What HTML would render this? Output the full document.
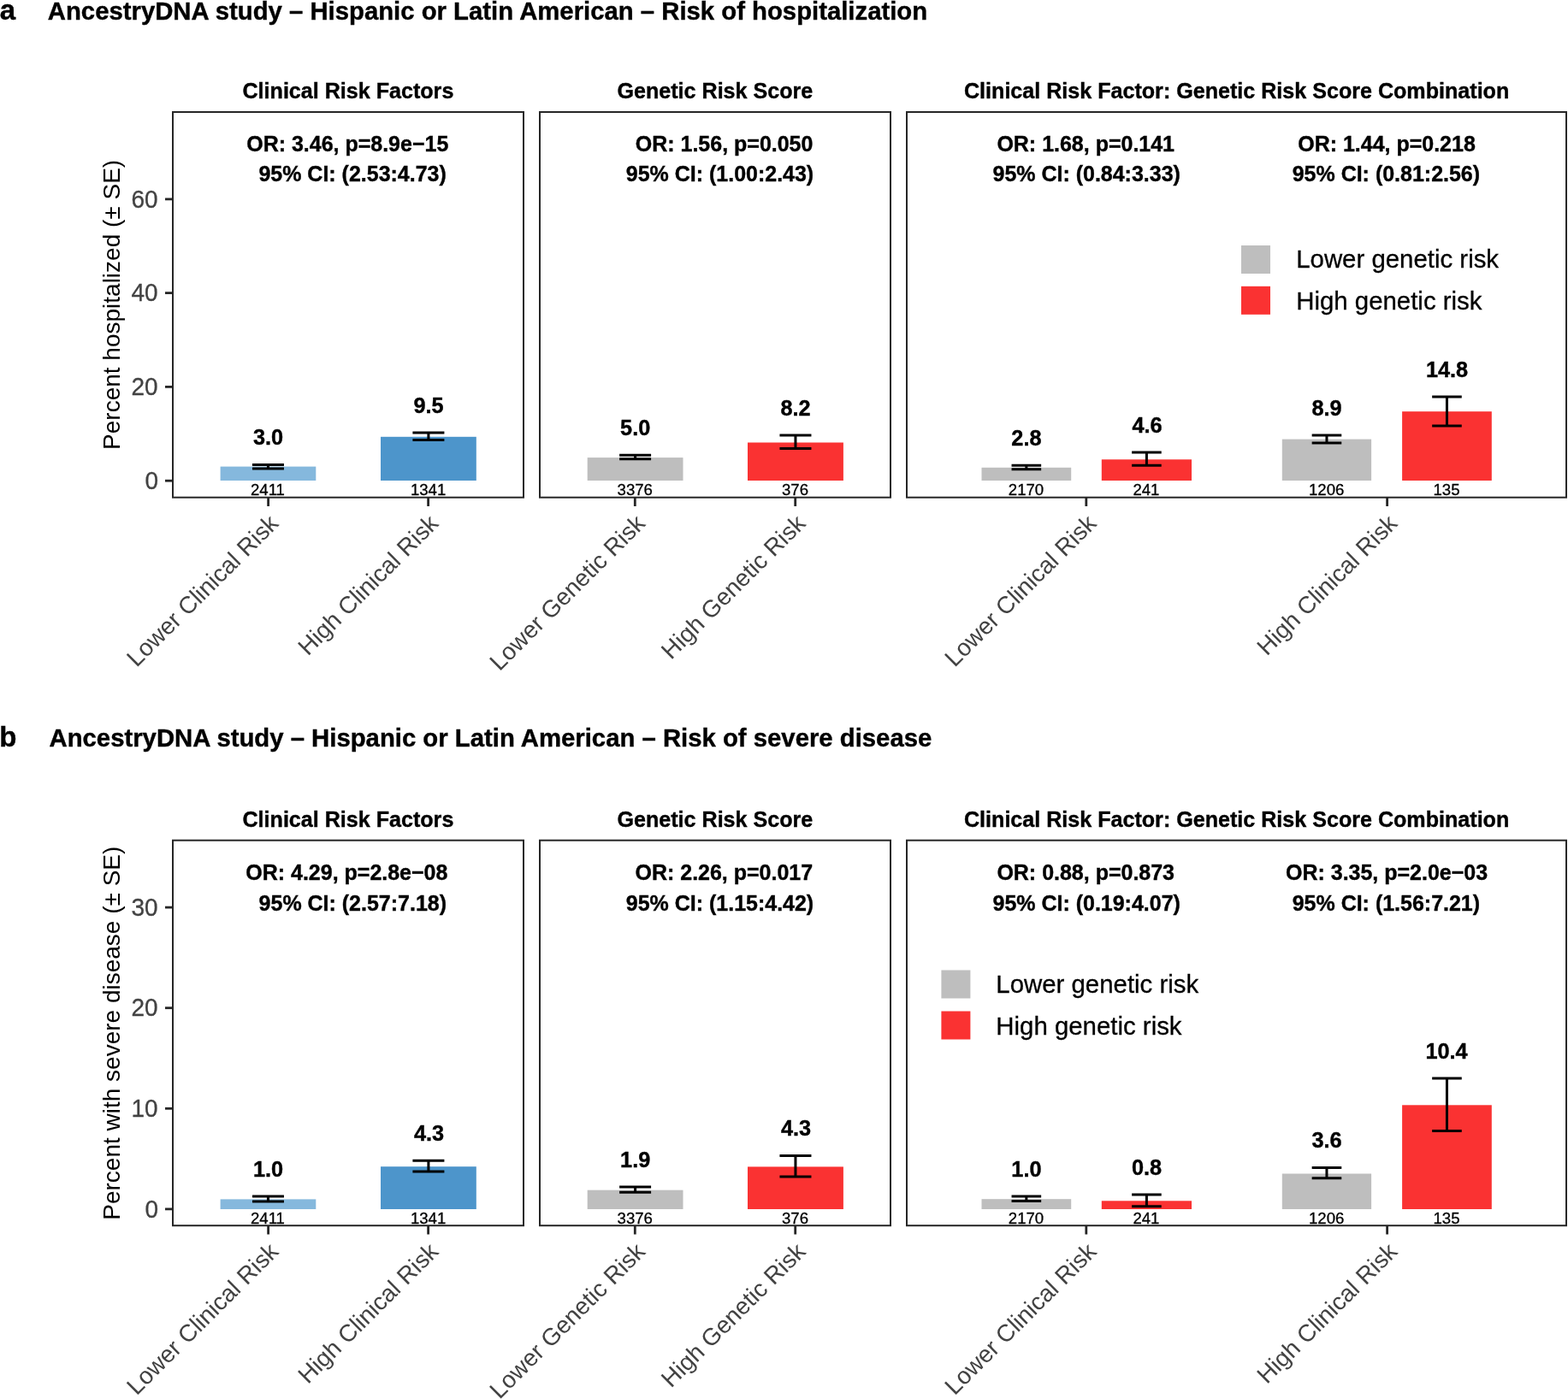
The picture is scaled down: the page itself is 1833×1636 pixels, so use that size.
<!DOCTYPE html><html><head><meta charset="utf-8"><title>AncestryDNA study</title><style>html,body{margin:0;padding:0;background:#fff;}svg{display:block;}text{font-family:"Liberation Sans", Arial, Helvetica, sans-serif;}</style></head><body>
<svg width="1833" height="1636" viewBox="0 0 1833 1636">
<rect x="0" y="0" width="1833" height="1636" fill="#fff"/>
<text transform="translate(-0.35 22.90) scale(1 1.0)" font-size="33.0" font-weight="bold" fill="#000" stroke="#000" stroke-width="0.4" text-anchor="start">a</text>
<text transform="translate(55.80 22.70) scale(1 1.0)" font-size="29.3" font-weight="bold" fill="#000" stroke="#000" stroke-width="0.4" text-anchor="start">AncestryDNA study – Hispanic or Latin American – Risk of hospitalization</text>
<text transform="translate(283.50 114.80) scale(1 1.0)" font-size="25.1" font-weight="bold" fill="#000" stroke="#000" stroke-width="0.4" text-anchor="start">Clinical Risk Factors</text>
<text transform="translate(721.50 114.80) scale(1 1.0)" font-size="25.1" font-weight="bold" fill="#000" stroke="#000" stroke-width="0.4" text-anchor="start">Genetic Risk Score</text>
<text transform="translate(1127.00 114.80) scale(1 1.0)" font-size="25.1" font-weight="bold" fill="#000" stroke="#000" stroke-width="0.4" text-anchor="start">Clinical Risk Factor: Genetic Risk Score Combination</text>
<rect x="257.60" y="545.60" width="111.70" height="16.40" fill="#85B8DD"/>
<rect x="445.00" y="510.80" width="111.80" height="51.20" fill="#4D95CB"/>
<rect x="686.70" y="535.10" width="111.80" height="26.90" fill="#BEBEBE"/>
<rect x="874.00" y="517.50" width="111.90" height="44.50" fill="#FA3232"/>
<rect x="1147.50" y="546.80" width="104.70" height="15.20" fill="#BEBEBE"/>
<rect x="1287.80" y="537.30" width="105.20" height="24.70" fill="#FA3232"/>
<rect x="1498.80" y="513.60" width="104.30" height="48.40" fill="#BEBEBE"/>
<rect x="1639.10" y="481.20" width="104.70" height="80.80" fill="#FA3232"/>
<path d="M294.95 543.40H331.95M313.45 543.40V548.00M294.95 548.00H331.95" stroke="#000" stroke-width="3.0" fill="none"/>
<text transform="translate(295.95 520.00) scale(1 1.03)" font-size="25.3" font-weight="bold" fill="#000" stroke="#000" stroke-width="0.4" text-anchor="start">3.0</text>
<text transform="translate(292.95 578.80) scale(1 1.03)" font-size="18.6" font-weight="normal" fill="#000" stroke="#000" stroke-width="0.3" text-anchor="start">2411</text>
<path d="M482.40 506.00H519.40M500.90 506.00V514.60M482.40 514.60H519.40" stroke="#000" stroke-width="3.0" fill="none"/>
<text transform="translate(483.40 482.60) scale(1 1.03)" font-size="25.3" font-weight="bold" fill="#000" stroke="#000" stroke-width="0.4" text-anchor="start">9.5</text>
<text transform="translate(479.90 578.80) scale(1 1.03)" font-size="18.6" font-weight="normal" fill="#000" stroke="#000" stroke-width="0.3" text-anchor="start">1341</text>
<path d="M724.10 532.30H761.10M742.60 532.30V536.80M724.10 536.80H761.10" stroke="#000" stroke-width="3.0" fill="none"/>
<text transform="translate(725.10 508.90) scale(1 1.03)" font-size="25.3" font-weight="bold" fill="#000" stroke="#000" stroke-width="0.4" text-anchor="start">5.0</text>
<text transform="translate(721.60 578.80) scale(1 1.03)" font-size="18.6" font-weight="normal" fill="#000" stroke="#000" stroke-width="0.3" text-anchor="start">3376</text>
<path d="M911.45 508.90H948.45M929.95 508.90V524.50M911.45 524.50H948.45" stroke="#000" stroke-width="3.0" fill="none"/>
<text transform="translate(912.45 485.50) scale(1 1.03)" font-size="25.3" font-weight="bold" fill="#000" stroke="#000" stroke-width="0.4" text-anchor="start">8.2</text>
<text transform="translate(913.95 578.80) scale(1 1.03)" font-size="18.6" font-weight="normal" fill="#000" stroke="#000" stroke-width="0.3" text-anchor="start">376</text>
<path d="M1182.55 544.30H1217.15M1199.85 544.30V548.70M1182.55 548.70H1217.15" stroke="#000" stroke-width="3.0" fill="none"/>
<text transform="translate(1182.35 520.90) scale(1 1.03)" font-size="25.3" font-weight="bold" fill="#000" stroke="#000" stroke-width="0.4" text-anchor="start">2.8</text>
<text transform="translate(1178.85 578.80) scale(1 1.03)" font-size="18.6" font-weight="normal" fill="#000" stroke="#000" stroke-width="0.3" text-anchor="start">2170</text>
<path d="M1323.10 529.10H1357.70M1340.40 529.10V544.30M1323.10 544.30H1357.70" stroke="#000" stroke-width="3.0" fill="none"/>
<text transform="translate(1323.40 505.70) scale(1 1.03)" font-size="25.3" font-weight="bold" fill="#000" stroke="#000" stroke-width="0.4" text-anchor="start">4.6</text>
<text transform="translate(1324.40 578.80) scale(1 1.03)" font-size="18.6" font-weight="normal" fill="#000" stroke="#000" stroke-width="0.3" text-anchor="start">241</text>
<path d="M1533.65 509.00H1568.25M1550.95 509.00V518.00M1533.65 518.00H1568.25" stroke="#000" stroke-width="3.0" fill="none"/>
<text transform="translate(1533.45 485.60) scale(1 1.03)" font-size="25.3" font-weight="bold" fill="#000" stroke="#000" stroke-width="0.4" text-anchor="start">8.9</text>
<text transform="translate(1529.95 578.80) scale(1 1.03)" font-size="18.6" font-weight="normal" fill="#000" stroke="#000" stroke-width="0.3" text-anchor="start">1206</text>
<path d="M1674.15 464.00H1708.75M1691.45 464.00V497.90M1674.15 497.90H1708.75" stroke="#000" stroke-width="3.0" fill="none"/>
<text transform="translate(1666.95 440.60) scale(1 1.03)" font-size="25.3" font-weight="bold" fill="#000" stroke="#000" stroke-width="0.4" text-anchor="start">14.8</text>
<text transform="translate(1675.45 578.80) scale(1 1.03)" font-size="18.6" font-weight="normal" fill="#000" stroke="#000" stroke-width="0.3" text-anchor="start">135</text>
<text transform="translate(288.20 177.00) scale(1 1.03)" font-size="25.0" font-weight="bold" fill="#000" stroke="#000" stroke-width="0.4" text-anchor="start">OR: 3.46, p=8.9e−15</text>
<text transform="translate(302.40 212.40) scale(1 1.03)" font-size="25.0" font-weight="bold" fill="#000" stroke="#000" stroke-width="0.4" text-anchor="start">95% CI: (2.53:4.73)</text>
<text transform="translate(742.80 177.00) scale(1 1.03)" font-size="25.0" font-weight="bold" fill="#000" stroke="#000" stroke-width="0.4" text-anchor="start">OR: 1.56, p=0.050</text>
<text transform="translate(731.80 212.40) scale(1 1.03)" font-size="25.0" font-weight="bold" fill="#000" stroke="#000" stroke-width="0.4" text-anchor="start">95% CI: (1.00:2.43)</text>
<text transform="translate(1165.40 177.00) scale(1 1.03)" font-size="25.0" font-weight="bold" fill="#000" stroke="#000" stroke-width="0.4" text-anchor="start">OR: 1.68, p=0.141</text>
<text transform="translate(1160.50 212.40) scale(1 1.03)" font-size="25.0" font-weight="bold" fill="#000" stroke="#000" stroke-width="0.4" text-anchor="start">95% CI: (0.84:3.33)</text>
<text transform="translate(1517.20 177.00) scale(1 1.03)" font-size="25.0" font-weight="bold" fill="#000" stroke="#000" stroke-width="0.4" text-anchor="start">OR: 1.44, p=0.218</text>
<text transform="translate(1510.70 212.40) scale(1 1.03)" font-size="25.0" font-weight="bold" fill="#000" stroke="#000" stroke-width="0.4" text-anchor="start">95% CI: (0.81:2.56)</text>
<rect x="1451.00" y="287.00" width="34" height="33" fill="#BEBEBE"/>
<text transform="translate(1515.20 313.00) scale(1 1.0)" font-size="29.4" font-weight="normal" fill="#000" stroke="#000" stroke-width="0.3" text-anchor="start">Lower genetic risk</text>
<rect x="1451.00" y="334.80" width="34" height="33" fill="#FA3232"/>
<text transform="translate(1515.20 361.80) scale(1 1.0)" font-size="29.4" font-weight="normal" fill="#000" stroke="#000" stroke-width="0.3" text-anchor="start">High genetic risk</text>
<rect x="202.00" y="131.00" width="410.00" height="450.70" fill="none" stroke="#262626" stroke-width="2.0"/>
<rect x="631.00" y="131.00" width="410.00" height="450.70" fill="none" stroke="#262626" stroke-width="2.0"/>
<rect x="1060.00" y="131.00" width="771.00" height="450.70" fill="none" stroke="#262626" stroke-width="2.0"/>
<line x1="193" y1="562.20" x2="202" y2="562.20" stroke="#262626" stroke-width="2.8"/>
<text transform="translate(169.50 571.99) scale(1 1.03)" font-size="28.0" font-weight="normal" fill="#424242" stroke="#424242" stroke-width="0.3" text-anchor="start">0</text>
<line x1="193" y1="452.40" x2="202" y2="452.40" stroke="#262626" stroke-width="2.8"/>
<text transform="translate(153.50 462.19) scale(1 1.03)" font-size="28.0" font-weight="normal" fill="#424242" stroke="#424242" stroke-width="0.3" text-anchor="start">20</text>
<line x1="193" y1="342.60" x2="202" y2="342.60" stroke="#262626" stroke-width="2.8"/>
<text transform="translate(153.50 352.39) scale(1 1.03)" font-size="28.0" font-weight="normal" fill="#424242" stroke="#424242" stroke-width="0.3" text-anchor="start">40</text>
<line x1="193" y1="232.90" x2="202" y2="232.90" stroke="#262626" stroke-width="2.8"/>
<text transform="translate(153.50 242.69) scale(1 1.03)" font-size="28.0" font-weight="normal" fill="#424242" stroke="#424242" stroke-width="0.3" text-anchor="start">60</text>
<text transform="translate(140 356.40) rotate(-90) scale(1 1.0)" x="0" y="0" font-size="28.0" fill="#000" text-anchor="middle">Percent hospitalized (± SE)</text>
<line x1="313.60" y1="581.70" x2="313.60" y2="592.00" stroke="#262626" stroke-width="2.8"/>
<text transform="translate(313.10 599.90) rotate(-45) scale(1 1.0)" x="0" y="19.60" font-size="28.0" fill="#424242" text-anchor="end">Lower Clinical Risk</text>
<line x1="500.60" y1="581.70" x2="500.60" y2="592.00" stroke="#262626" stroke-width="2.8"/>
<text transform="translate(500.10 599.90) rotate(-45) scale(1 1.0)" x="0" y="19.60" font-size="28.0" fill="#424242" text-anchor="end">High Clinical Risk</text>
<line x1="742.30" y1="581.70" x2="742.30" y2="592.00" stroke="#262626" stroke-width="2.8"/>
<text transform="translate(741.80 599.90) rotate(-45) scale(1 1.0)" x="0" y="19.60" font-size="28.0" fill="#424242" text-anchor="end">Lower Genetic Risk</text>
<line x1="929.70" y1="581.70" x2="929.70" y2="592.00" stroke="#262626" stroke-width="2.8"/>
<text transform="translate(929.20 599.90) rotate(-45) scale(1 1.0)" x="0" y="19.60" font-size="28.0" fill="#424242" text-anchor="end">High Genetic Risk</text>
<line x1="1269.80" y1="581.70" x2="1269.80" y2="592.00" stroke="#262626" stroke-width="2.8"/>
<text transform="translate(1269.30 599.90) rotate(-45) scale(1 1.0)" x="0" y="19.60" font-size="28.0" fill="#424242" text-anchor="end">Lower Clinical Risk</text>
<line x1="1621.60" y1="581.70" x2="1621.60" y2="592.00" stroke="#262626" stroke-width="2.8"/>
<text transform="translate(1621.10 599.90) rotate(-45) scale(1 1.0)" x="0" y="19.60" font-size="28.0" fill="#424242" text-anchor="end">High Clinical Risk</text>
<text transform="translate(-0.70 872.90) scale(1 1.0)" font-size="33.0" font-weight="bold" fill="#000" stroke="#000" stroke-width="0.4" text-anchor="start">b</text>
<text transform="translate(57.50 872.70) scale(1 1.0)" font-size="29.3" font-weight="bold" fill="#000" stroke="#000" stroke-width="0.4" text-anchor="start">AncestryDNA study – Hispanic or Latin American – Risk of severe disease</text>
<text transform="translate(283.50 966.50) scale(1 1.0)" font-size="25.1" font-weight="bold" fill="#000" stroke="#000" stroke-width="0.4" text-anchor="start">Clinical Risk Factors</text>
<text transform="translate(721.50 966.50) scale(1 1.0)" font-size="25.1" font-weight="bold" fill="#000" stroke="#000" stroke-width="0.4" text-anchor="start">Genetic Risk Score</text>
<text transform="translate(1127.00 966.50) scale(1 1.0)" font-size="25.1" font-weight="bold" fill="#000" stroke="#000" stroke-width="0.4" text-anchor="start">Clinical Risk Factor: Genetic Risk Score Combination</text>
<rect x="257.60" y="1402.40" width="111.70" height="11.60" fill="#85B8DD"/>
<rect x="445.00" y="1364.20" width="111.80" height="49.80" fill="#4D95CB"/>
<rect x="686.70" y="1391.70" width="111.80" height="22.30" fill="#BEBEBE"/>
<rect x="874.00" y="1364.40" width="111.90" height="49.60" fill="#FA3232"/>
<rect x="1147.50" y="1402.20" width="104.70" height="11.80" fill="#BEBEBE"/>
<rect x="1287.80" y="1404.30" width="105.20" height="9.70" fill="#FA3232"/>
<rect x="1498.80" y="1372.50" width="104.30" height="41.50" fill="#BEBEBE"/>
<rect x="1639.10" y="1292.30" width="104.70" height="121.70" fill="#FA3232"/>
<path d="M294.95 1399.00H331.95M313.45 1399.00V1405.00M294.95 1405.00H331.95" stroke="#000" stroke-width="3.0" fill="none"/>
<text transform="translate(295.95 1375.60) scale(1 1.03)" font-size="25.3" font-weight="bold" fill="#000" stroke="#000" stroke-width="0.4" text-anchor="start">1.0</text>
<text transform="translate(292.95 1430.60) scale(1 1.03)" font-size="18.6" font-weight="normal" fill="#000" stroke="#000" stroke-width="0.3" text-anchor="start">2411</text>
<path d="M482.40 1357.30H519.40M500.90 1357.30V1370.10M482.40 1370.10H519.40" stroke="#000" stroke-width="3.0" fill="none"/>
<text transform="translate(483.90 1333.90) scale(1 1.03)" font-size="25.3" font-weight="bold" fill="#000" stroke="#000" stroke-width="0.4" text-anchor="start">4.3</text>
<text transform="translate(479.90 1430.60) scale(1 1.03)" font-size="18.6" font-weight="normal" fill="#000" stroke="#000" stroke-width="0.3" text-anchor="start">1341</text>
<path d="M724.10 1387.90H761.10M742.60 1387.90V1394.30M724.10 1394.30H761.10" stroke="#000" stroke-width="3.0" fill="none"/>
<text transform="translate(725.10 1364.50) scale(1 1.03)" font-size="25.3" font-weight="bold" fill="#000" stroke="#000" stroke-width="0.4" text-anchor="start">1.9</text>
<text transform="translate(721.60 1430.60) scale(1 1.03)" font-size="18.6" font-weight="normal" fill="#000" stroke="#000" stroke-width="0.3" text-anchor="start">3376</text>
<path d="M911.45 1351.50H948.45M929.95 1351.50V1375.90M911.45 1375.90H948.45" stroke="#000" stroke-width="3.0" fill="none"/>
<text transform="translate(912.95 1328.10) scale(1 1.03)" font-size="25.3" font-weight="bold" fill="#000" stroke="#000" stroke-width="0.4" text-anchor="start">4.3</text>
<text transform="translate(913.95 1430.60) scale(1 1.03)" font-size="18.6" font-weight="normal" fill="#000" stroke="#000" stroke-width="0.3" text-anchor="start">376</text>
<path d="M1182.55 1398.90H1217.15M1199.85 1398.90V1404.60M1182.55 1404.60H1217.15" stroke="#000" stroke-width="3.0" fill="none"/>
<text transform="translate(1182.35 1375.50) scale(1 1.03)" font-size="25.3" font-weight="bold" fill="#000" stroke="#000" stroke-width="0.4" text-anchor="start">1.0</text>
<text transform="translate(1178.85 1430.60) scale(1 1.03)" font-size="18.6" font-weight="normal" fill="#000" stroke="#000" stroke-width="0.3" text-anchor="start">2170</text>
<path d="M1323.10 1397.00H1357.70M1340.40 1397.00V1410.70M1323.10 1410.70H1357.70" stroke="#000" stroke-width="3.0" fill="none"/>
<text transform="translate(1322.90 1373.60) scale(1 1.03)" font-size="25.3" font-weight="bold" fill="#000" stroke="#000" stroke-width="0.4" text-anchor="start">0.8</text>
<text transform="translate(1324.40 1430.60) scale(1 1.03)" font-size="18.6" font-weight="normal" fill="#000" stroke="#000" stroke-width="0.3" text-anchor="start">241</text>
<path d="M1533.65 1365.50H1568.25M1550.95 1365.50V1377.80M1533.65 1377.80H1568.25" stroke="#000" stroke-width="3.0" fill="none"/>
<text transform="translate(1533.45 1342.10) scale(1 1.03)" font-size="25.3" font-weight="bold" fill="#000" stroke="#000" stroke-width="0.4" text-anchor="start">3.6</text>
<text transform="translate(1529.95 1430.60) scale(1 1.03)" font-size="18.6" font-weight="normal" fill="#000" stroke="#000" stroke-width="0.3" text-anchor="start">1206</text>
<path d="M1674.15 1261.10H1708.75M1691.45 1261.10V1322.60M1674.15 1322.60H1708.75" stroke="#000" stroke-width="3.0" fill="none"/>
<text transform="translate(1666.45 1237.70) scale(1 1.03)" font-size="25.3" font-weight="bold" fill="#000" stroke="#000" stroke-width="0.4" text-anchor="start">10.4</text>
<text transform="translate(1675.45 1430.60) scale(1 1.03)" font-size="18.6" font-weight="normal" fill="#000" stroke="#000" stroke-width="0.3" text-anchor="start">135</text>
<text transform="translate(287.30 1028.70) scale(1 1.03)" font-size="25.0" font-weight="bold" fill="#000" stroke="#000" stroke-width="0.4" text-anchor="start">OR: 4.29, p=2.8e−08</text>
<text transform="translate(302.60 1064.50) scale(1 1.03)" font-size="25.0" font-weight="bold" fill="#000" stroke="#000" stroke-width="0.4" text-anchor="start">95% CI: (2.57:7.18)</text>
<text transform="translate(742.50 1028.70) scale(1 1.03)" font-size="25.0" font-weight="bold" fill="#000" stroke="#000" stroke-width="0.4" text-anchor="start">OR: 2.26, p=0.017</text>
<text transform="translate(731.80 1064.50) scale(1 1.03)" font-size="25.0" font-weight="bold" fill="#000" stroke="#000" stroke-width="0.4" text-anchor="start">95% CI: (1.15:4.42)</text>
<text transform="translate(1165.40 1028.70) scale(1 1.03)" font-size="25.0" font-weight="bold" fill="#000" stroke="#000" stroke-width="0.4" text-anchor="start">OR: 0.88, p=0.873</text>
<text transform="translate(1160.50 1064.50) scale(1 1.03)" font-size="25.0" font-weight="bold" fill="#000" stroke="#000" stroke-width="0.4" text-anchor="start">95% CI: (0.19:4.07)</text>
<text transform="translate(1503.00 1028.70) scale(1 1.03)" font-size="25.0" font-weight="bold" fill="#000" stroke="#000" stroke-width="0.4" text-anchor="start">OR: 3.35, p=2.0e−03</text>
<text transform="translate(1510.70 1064.50) scale(1 1.03)" font-size="25.0" font-weight="bold" fill="#000" stroke="#000" stroke-width="0.4" text-anchor="start">95% CI: (1.56:7.21)</text>
<rect x="1100.40" y="1134.50" width="34" height="33" fill="#BEBEBE"/>
<text transform="translate(1164.30 1160.80) scale(1 1.0)" font-size="29.4" font-weight="normal" fill="#000" stroke="#000" stroke-width="0.3" text-anchor="start">Lower genetic risk</text>
<rect x="1100.40" y="1182.50" width="34" height="33" fill="#FA3232"/>
<text transform="translate(1164.30 1210.00) scale(1 1.0)" font-size="29.4" font-weight="normal" fill="#000" stroke="#000" stroke-width="0.3" text-anchor="start">High genetic risk</text>
<rect x="202.00" y="982.70" width="410.00" height="450.50" fill="none" stroke="#262626" stroke-width="2.0"/>
<rect x="631.00" y="982.70" width="410.00" height="450.50" fill="none" stroke="#262626" stroke-width="2.0"/>
<rect x="1060.00" y="982.70" width="771.00" height="450.50" fill="none" stroke="#262626" stroke-width="2.0"/>
<line x1="193" y1="1413.90" x2="202" y2="1413.90" stroke="#262626" stroke-width="2.8"/>
<text transform="translate(169.50 1423.69) scale(1 1.03)" font-size="28.0" font-weight="normal" fill="#424242" stroke="#424242" stroke-width="0.3" text-anchor="start">0</text>
<line x1="193" y1="1296.30" x2="202" y2="1296.30" stroke="#262626" stroke-width="2.8"/>
<text transform="translate(153.50 1306.09) scale(1 1.03)" font-size="28.0" font-weight="normal" fill="#424242" stroke="#424242" stroke-width="0.3" text-anchor="start">10</text>
<line x1="193" y1="1178.70" x2="202" y2="1178.70" stroke="#262626" stroke-width="2.8"/>
<text transform="translate(153.50 1188.49) scale(1 1.03)" font-size="28.0" font-weight="normal" fill="#424242" stroke="#424242" stroke-width="0.3" text-anchor="start">20</text>
<line x1="193" y1="1061.10" x2="202" y2="1061.10" stroke="#262626" stroke-width="2.8"/>
<text transform="translate(153.50 1070.88) scale(1 1.03)" font-size="28.0" font-weight="normal" fill="#424242" stroke="#424242" stroke-width="0.3" text-anchor="start">30</text>
<text transform="translate(140 1208.20) rotate(-90) scale(1 1.0)" x="0" y="0" font-size="28.0" fill="#000" text-anchor="middle">Percent with severe disease (± SE)</text>
<line x1="313.60" y1="1433.20" x2="313.60" y2="1443.50" stroke="#262626" stroke-width="2.8"/>
<text transform="translate(313.10 1451.40) rotate(-45) scale(1 1.0)" x="0" y="19.60" font-size="28.0" fill="#424242" text-anchor="end">Lower Clinical Risk</text>
<line x1="500.60" y1="1433.20" x2="500.60" y2="1443.50" stroke="#262626" stroke-width="2.8"/>
<text transform="translate(500.10 1451.40) rotate(-45) scale(1 1.0)" x="0" y="19.60" font-size="28.0" fill="#424242" text-anchor="end">High Clinical Risk</text>
<line x1="742.30" y1="1433.20" x2="742.30" y2="1443.50" stroke="#262626" stroke-width="2.8"/>
<text transform="translate(741.80 1451.40) rotate(-45) scale(1 1.0)" x="0" y="19.60" font-size="28.0" fill="#424242" text-anchor="end">Lower Genetic Risk</text>
<line x1="929.70" y1="1433.20" x2="929.70" y2="1443.50" stroke="#262626" stroke-width="2.8"/>
<text transform="translate(929.20 1451.40) rotate(-45) scale(1 1.0)" x="0" y="19.60" font-size="28.0" fill="#424242" text-anchor="end">High Genetic Risk</text>
<line x1="1269.80" y1="1433.20" x2="1269.80" y2="1443.50" stroke="#262626" stroke-width="2.8"/>
<text transform="translate(1269.30 1451.40) rotate(-45) scale(1 1.0)" x="0" y="19.60" font-size="28.0" fill="#424242" text-anchor="end">Lower Clinical Risk</text>
<line x1="1621.60" y1="1433.20" x2="1621.60" y2="1443.50" stroke="#262626" stroke-width="2.8"/>
<text transform="translate(1621.10 1451.40) rotate(-45) scale(1 1.0)" x="0" y="19.60" font-size="28.0" fill="#424242" text-anchor="end">High Clinical Risk</text>
</svg></body></html>
